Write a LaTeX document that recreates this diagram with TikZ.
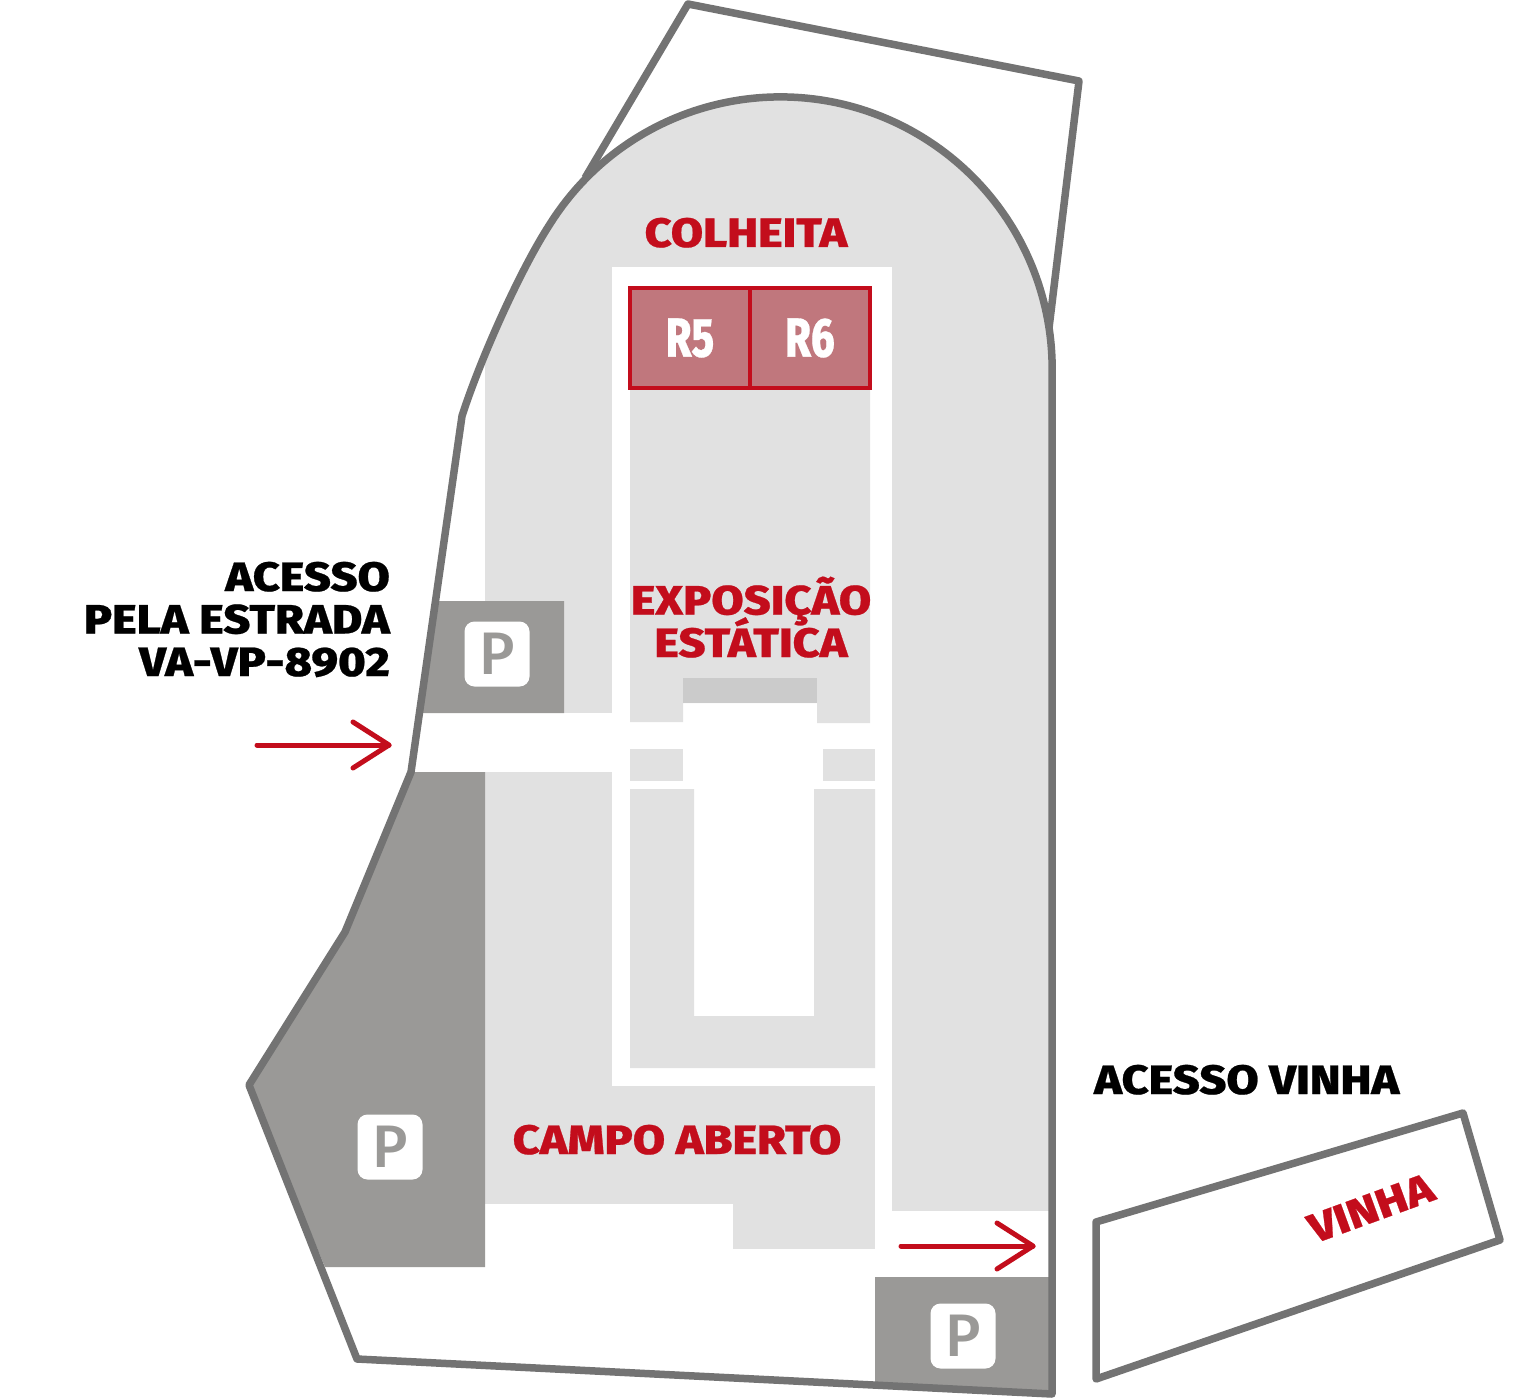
\documentclass[tikz,border=0pt]{standalone}
\usepackage{fontspec}
\setmainfont{Fira Sans}[BoldFont={Fira Sans ExtraBold},BoldFeatures={FakeStretch=1.14,FakeBold=0.6}]
\newfontfamily\signfont{Fira Sans Medium}
\newcommand\tightlines{\setlength{\lineskiplimit}{-100pt}}
\definecolor{wall}{HTML}{737373}
\definecolor{zone}{HTML}{E1E1E1}
\definecolor{stage}{HTML}{CBCBCB}
\definecolor{park}{HTML}{9A9997}
\definecolor{brand}{HTML}{C30D1C}
\definecolor{plot}{HTML}{C0777D}
\tikzset{
    wallline/.style={draw=wall,line width=7.5pt,line join=round},
    redline/.style={draw=brand,line width=5pt,line cap=round,line join=round},
    maplabel/.style={inner sep=0pt,font=\fontsize{41}{42.5}\selectfont\bfseries\tightlines},
    plotlabel/.style={inner sep=0pt,text=white,font=\fontsize{55}{55}\selectfont\bfseries,xscale=.66},
    parksign/.style={fill=white,rounded corners=10pt,minimum size=65pt,inner sep=0pt,text=park,font=\fontsize{60}{60}\signfont}
}
\def\siteoutline{(462,416) .. controls (480,360) and (520,270) .. (550,224) arc[start angle=147.8,end angle=0,radius=272pt] -- (1052,1394) -- (357,1359) -- (249,1085) -- (345,932) -- (411,772) -- cycle}
\begin{document}
\begin{tikzpicture}[x=1pt,y=-1pt]
    \useasboundingbox (0,0) rectangle (1531,1399);

    % grey ground, then the white paths cut out of it
    \fill[zone] \siteoutline;
    \fill[white] (240,340) rectangle (485,1399);
    \fill[white] (485,1204) rectangle (733,1399);
    \fill[white] (733,1249) rectangle (892,1399);
    \fill[white] (875,1211) rectangle (1052,1399);
    \fill[white] (612,267) rectangle (892,1086);
    \fill[white] (875,1086) rectangle (892,1211);
    \fill[white] (412,713) rectangle (612,772);

    % inner blocks
    \fill[zone] (630,388) -- (870,388) -- (870,723) -- (817,723) -- (817,703) -- (683,703) -- (683,722) -- (630,722) -- cycle;
    \fill[stage] (683,678) rectangle (817,703);
    \fill[zone] (630,749) rectangle (683,781);
    \fill[zone] (823,749) rectangle (875,781);
    \fill[zone] (630,789) -- (694,789) -- (694,1016) -- (814,1016) -- (814,789) -- (875,789) -- (875,1068) -- (630,1068) -- cycle;

    % parking
    \fill[park] (436,601) -- (564,601) -- (564,713) -- (420,713) -- cycle;
    \fill[park] (411,772) -- (485,772) -- (485,1267) -- (325,1267) -- (249,1085) -- (345,932) -- cycle;
    \fill[park] (875,1277) -- (1052,1277) -- (1052,1394) -- (875,1385) -- cycle;
    \foreach \name/\x/\y in {parkA/497/654,parkB/390/1147,parkC/963/1336}
        \node[parksign] (\name) at (\x,\y) {P};

    % boundaries
    \draw[wallline] \siteoutline;
    \draw[wallline] (585,178) -- (688,4) -- (1079,81) -- (1049,328);
    \draw[wallline] (1096,1222) -- (1463,1113) -- (1500,1240) -- (1096,1379) -- cycle;

    % plots
    \draw[draw=brand,fill=plot,line width=3.5pt] (630,288) rectangle (870,388);
    \draw[draw=brand,line width=3.5pt] (750,288) -- (750,388);
    \node[plotlabel] (rfive) at (690,338) {R5};
    \node[plotlabel] (rsix) at (810,338) {R6};

    % entrances
    \foreach \x/\y in {257/745,901/1246} {
        \draw[redline] (\x,\y) -- ++(132,0);
        \draw[redline] (\x+96,\y-23) -- (\x+132,\y) -- (\x+96,\y+23);
    }

    % labels
    \node[maplabel,text=brand,anchor=base] (colheita) at (746,247) {COLHEITA};
    \node[maplabel,text=brand,align=center,anchor=base] (expo) at (751,657) {EXPOSIÇÃO\\ESTÁTICA};
    \node[maplabel,text=brand,anchor=base] (campo) at (677,1154) {CAMPO ABERTO};
    \node[maplabel,text=brand,anchor=center,rotate=20] (vinha) at (1371,1208) {VINHA};
    \node[maplabel,align=right,anchor=base east] (road) at (390,676) {ACESSO\\PELA ESTRADA\\VA-VP-8902};
    \node[maplabel,anchor=base west] (vineyard) at (1094,1094) {ACESSO VINHA};
\end{tikzpicture}
\end{document}
